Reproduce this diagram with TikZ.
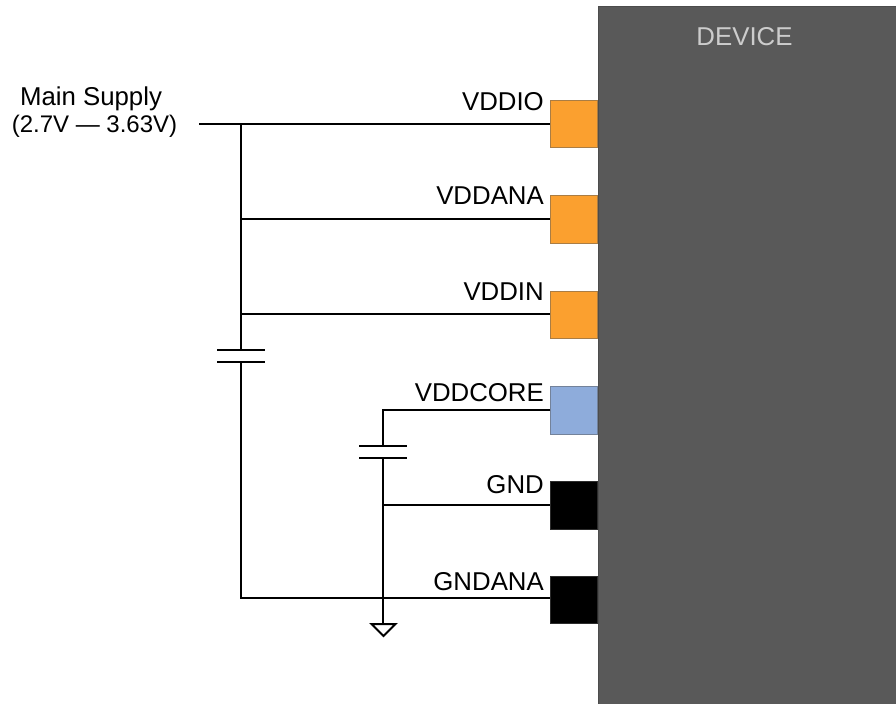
\documentclass[tikz,border=0pt]{standalone}
\usepackage{fontspec}
\setmainfont{Liberation Sans}
\usetikzlibrary{shapes.geometric}
\definecolor{devgray}{HTML}{595959}
\definecolor{pinorange}{HTML}{FBA02F}
\definecolor{pinblue}{HTML}{8EACDB}
\tikzset{
    pin/.style={draw=#1!50!devgray,line width=1pt,minimum size=47.5pt,inner sep=0pt,outer sep=0pt},
    wire/.style={line width=2pt},
    plate/.style={line width=2pt},
    pinlabel/.style={anchor=south east,inner sep=0pt,font=\fontsize{25.8}{25.8}\selectfont}
}
\begin{document}
\begin{tikzpicture}[x=1pt,y=-1pt]
                \useasboundingbox (0,0) rectangle (896,704);
                
                % Device
                \fill[devgray] (598,6) rectangle (896,704);
                \draw[line width=1pt,black!70] (598,6) -- (896,6);
                \draw[line width=1pt,black!70] (598,6) -- (598,704);
                \node[text=black!20,font=\fontsize{25.8}{25.8}\selectfont] (device) at (744.5,37) {DEVICE};
                
                % Pins
                \node[pin=pinorange,fill=pinorange] (vddio) at (574,124) {};
                \node[pin=pinorange,fill=pinorange] (vddana) at (574,219.5) {};
                \node[pin=pinorange,fill=pinorange] (vddin) at (574,315) {};
                \node[pin=pinblue,fill=pinblue] (vddcore) at (574,410.5) {};
                \node[pin=black,fill=black] (gnd) at (574,505.5) {};
                \node[pin=black,fill=black] (gndana) at (574,600) {};
                
                % Pin labels
                \node[pinlabel] (lblio) at (544,110.5) {VDDIO};
                \node[pinlabel] (lblana) at (544,205) {VDDANA};
                \node[pinlabel] (lblin) at (544,301) {VDDIN};
                \node[pinlabel] (lblcore) at (544,402) {VDDCORE};
                \node[pinlabel] (lblgnd) at (544,494) {GND};
                \node[pinlabel] (lblgndana) at (544,591) {GNDANA};
                
                % Supply label
                \node[font=\fontsize{25.8}{25.8}\selectfont] (supply) at (91,99) {Main Supply};
                \node[font=\fontsize{24}{24}\selectfont] (range) at (94.5,126) {(2.7V — 3.63V)};
                
                % Bus
                \coordinate (feed) at (199,124);
                \coordinate (capa) at (241,350);
                \coordinate (capb) at (241,362);
                \coordinate (busbot) at (241,598);
                \draw[wire] (feed) -- (vddio.west |- feed);
                \draw[wire] (241,124) -- (capa);
                \draw[wire] (241,219) -- (vddana.west |- 0,219);
                \draw[wire] (241,314) -- (vddin.west |- 0,314);
                \draw[wire] (capb) -- (busbot) -- (gndana.west |- busbot);
                
                % Bus capacitor
                \draw[plate] (217,350) -- (265,350);
                \draw[plate] (217,362) -- (265,362);
                
                % Core capacitor
                \coordinate (capc) at (383,446);
                \coordinate (capd) at (383,458);
                \draw[wire] (vddcore.west |- 0,410) -- (383,410) -- (capc);
                \draw[plate] (359,446) -- (407,446);
                \draw[plate] (359,458) -- (407,458);
                \coordinate (gndtop) at (383,624);
                \draw[wire] (capd) -- (gndtop);
                \draw[wire] (383,505) -- (gnd.west |- 0,505);
                
                % Ground
                \draw[wire,line join=miter] (371.5,624) -- (395.5,624) -- (383.5,636) -- cycle;
            \end{tikzpicture}
\end{document}
